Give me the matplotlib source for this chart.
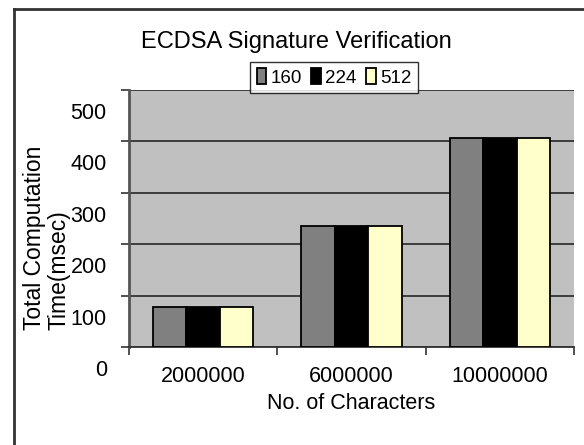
import matplotlib.pyplot as plt
import matplotlib.transforms as mtransforms
from matplotlib.lines import Line2D
import numpy as np

plt.rcParams['font.family'] = ['Liberation Sans', 'DejaVu Sans']

# data
categories = ["2000000", "6000000", "10000000"]
series = ["160", "224", "512"]
v160 = [78, 235, 407]
v224 = [78, 235, 407]
v512 = [78, 235, 407]
colors = ["#808080", "#000000", "#ffffcc"]

fig = plt.figure(figsize=(5.84, 4.45), dpi=100)
ax = fig.add_axes([0.2209, 0.2202, 0.762, 0.5776])
ax.set_facecolor("#c0c0c0")

x = np.arange(len(categories))
w = 0.225
for i, (vals, c, name) in enumerate(zip([v160, v224, v512], colors, series)):
    ax.bar(x + (i - 1) * w, vals, w, color=c, edgecolor="black", linewidth=1.3,
           label=name, zorder=3)

ax.set_xlim(-0.5, 2.5)
ax.set_ylim(0, 500)
ax.set_yticks(np.arange(0, 501, 100))
ax.yaxis.grid(True, color="#333333", linewidth=1.3, zorder=1)
ax.set_axisbelow(True)

# x ticks sit between groups, labels at the centres
ax.set_xticks([-0.5, 0.5, 1.5, 2.5])
ax.set_xticklabels([])
ax.set_xticks(x, minor=True)
ax.set_xticklabels(categories, minor=True, fontsize=15.5)
ax.tick_params(axis="x", which="minor", length=0, pad=14)
ax.tick_params(axis="x", which="major", length=6, color="#333333", width=1.2)
ax.tick_params(axis="y", length=6, color="#333333", width=1.2, labelsize=15.5, pad=10)

# y labels are drawn half a step lower than their gridlines
off = mtransforms.ScaledTranslation(0, -0.21, fig.dpi_scale_trans)
for lab in ax.get_yticklabels():
    lab.set_transform(lab.get_transform() + off)

for s in ["top", "right"]:
    ax.spines[s].set_visible(False)
ax.spines["left"].set_color("#555555")
ax.spines["left"].set_linewidth(2)
ax.spines["bottom"].set_color("#333333")
ax.spines["bottom"].set_linewidth(1.3)

ax.set_xlabel("No. of Characters", fontsize=15.5, labelpad=4)
fig.text(0.08, 0.258, "Total Computation\nTime(msec)", rotation=90, fontsize=16.5,
         ha="center", va="bottom", multialignment="left", linespacing=1.1)

fig.text(0.508, 0.905, "ECDSA Signature Verification", fontsize=17,
         ha="center", va="center")

leg = fig.legend(loc="upper right", bbox_to_anchor=(0.716, 0.861), ncol=3,
                 fontsize=13.5, frameon=True, fancybox=False, edgecolor="black",
                 handlelength=0.5, handleheight=0.9, handletextpad=0.25,
                 columnspacing=0.5, borderpad=0.35, borderaxespad=0)
leg.get_frame().set_linewidth(1.0)

# outer frame lines at top and left
fig.add_artist(Line2D([0.024, 1.0], [0.979, 0.979], color="#333333", linewidth=2))
fig.add_artist(Line2D([0.024, 0.024], [0.0, 0.979], color="#333333", linewidth=2))

fig.savefig("out.png", dpi=100)
